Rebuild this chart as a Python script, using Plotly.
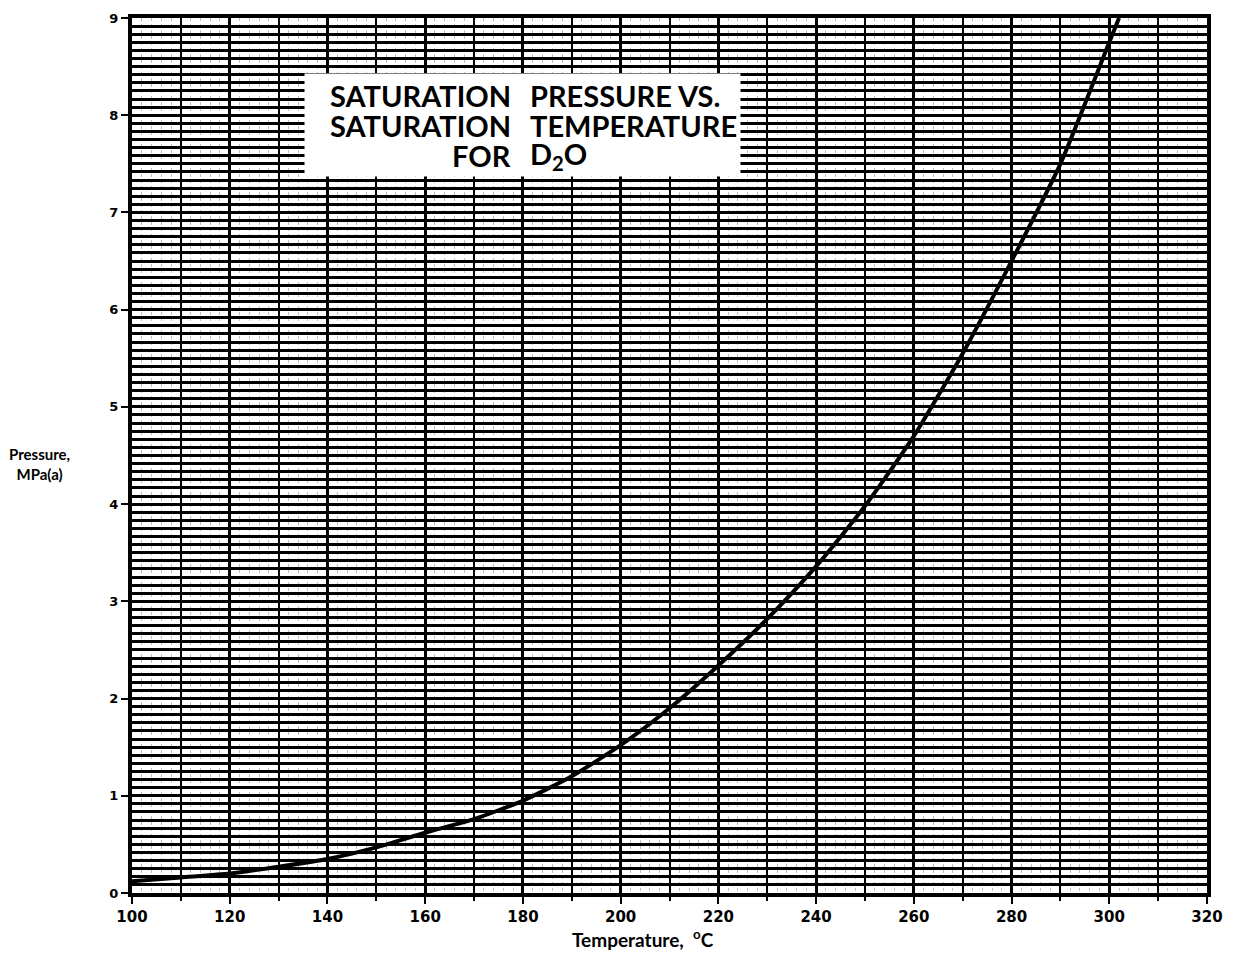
import plotly.graph_objects as go

# Data
temperature_c = [100, 110, 120, 130, 140, 150, 160, 170, 180, 190, 200, 210,
                 220, 230, 240, 250, 260, 270, 280, 290, 300, 302]
pressure_mpa = [0.12, 0.16, 0.20, 0.27, 0.35, 0.47, 0.62, 0.76, 0.95, 1.20, 1.52, 1.90,
                2.34, 2.82, 3.36, 3.98, 4.70, 5.55, 6.50, 7.50, 8.75, 9.00]
x_ticks = [100, 120, 140, 160, 180, 200, 220, 240, 260, 280, 300, 320]
y_ticks = [0, 1, 2, 3, 4, 5, 6, 7, 8, 9]
title_left = ["SATURATION", "SATURATION", "FOR"]
title_right = ["PRESSURE VS.", "TEMPERATURE", "D<sub>2</sub>O"]

FONT = "DejaVu Sans"
TFONT = "Lato"

# page body has an 8px margin: figure is drawn from (8, 8)
W, H = 1218, 944
L, R, T, B = 124, 16, 3, 59

fig = go.Figure()
fig.add_trace(go.Scatter(x=temperature_c, y=pressure_mpa, xaxis="x2", yaxis="y2",
                         mode="lines", line=dict(color="rgba(0,0,0,0)", width=0),
                         hoverinfo="skip", showlegend=False))
fig.add_trace(go.Scatter(x=temperature_c, y=pressure_mpa, mode="lines",
                         line=dict(color="black", width=4, shape="spline", smoothing=0.6),
                         showlegend=False))

fig.update_layout(
    width=W, height=H,
    margin=dict(l=L, r=R, t=T, b=B),
    paper_bgcolor="white", plot_bgcolor="white",
    font=dict(family=FONT, color="black"),
    xaxis=dict(range=[100, 320], tickvals=x_ticks, ticktext=[str(v) for v in x_ticks],
               showgrid=True, gridcolor="black", gridwidth=3,
               minor=dict(dtick=10, tick0=100, showgrid=True, gridcolor="black", gridwidth=2,
                          ticks="outside", ticklen=4, tickcolor="black"),
               ticks="outside", ticklen=7, tickwidth=2, tickcolor="black",
               showline=True, linecolor="black", linewidth=4, mirror=True,
               tickfont=dict(size=15, family=FONT, weight="bold"),
               ticklabeloverflow="allow", zeroline=False),
    yaxis=dict(range=[0, 9], tickvals=y_ticks, ticktext=[str(v) for v in y_ticks],
               showgrid=True, gridcolor="black", gridwidth=3,
               minor=dict(dtick=0.5, tick0=0, showgrid=True, gridcolor="black", gridwidth=3),
               ticks="outside", ticklen=7, tickwidth=2, tickcolor="black",
               showline=True, linecolor="black", linewidth=4, mirror=True,
               tickfont=dict(size=13, family=FONT, weight="bold"),
               ticklabeloverflow="allow", zeroline=False),
    xaxis2=dict(range=[100, 320], overlaying="x", side="bottom", showticklabels=False,
                showgrid=True, dtick=2, tick0=100, gridcolor="rgba(0,0,0,0.25)", gridwidth=1,
                griddash="dot", zeroline=False, showline=False),
    yaxis2=dict(range=[0, 9], overlaying="y", side="left", showticklabels=False,
                showgrid=True, dtick=1 / 12, tick0=0, gridcolor="black", gridwidth=2.5,
                zeroline=False, showline=False),
)

# title box (white panel)
fig.add_annotation(x=135.3, y=8.43, xref="x", yref="y", xanchor="left", yanchor="top",
                   text=" ", width=433, height=100, bgcolor="white", showarrow=False)
line_y = [8.2, 7.895, 7.59]
for txt, yy in zip(title_left, line_y):
    fig.add_annotation(x=178.0, y=yy, xref="x", yref="y", xanchor="right", yanchor="middle",
                       text=txt, showarrow=False,
                       font=dict(size=29, family=TFONT, weight="bold"))
for txt, yy in zip(title_right, line_y):
    fig.add_annotation(x=181.0, y=yy, xref="x", yref="y", xanchor="left", yanchor="middle",
                       text=txt, showarrow=False,
                       font=dict(size=29, family=TFONT, weight="bold"))

# axis titles
fig.add_annotation(x=(31 - L) / (W - L - R), y=(885 - 453) / (885 - T),
                   xref="paper", yref="paper", xanchor="center", yanchor="middle",
                   text="Pressure,<br>MPa(a)", showarrow=False,
                   font=dict(size=15, family=TFONT, weight="bold"), align="center")
fig.add_annotation(x=204.5, y=0, xref="x", yref="paper", yshift=-45, yanchor="middle",
                   text="Temperature,&nbsp;&nbsp;<sup>o</sup>C", showarrow=False,
                   font=dict(size=19, family=TFONT, weight="bold"))

fig.write_html("out.html")
